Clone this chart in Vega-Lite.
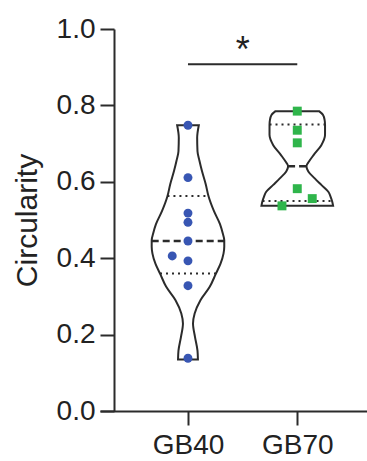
{
  "$schema": "https://vega.github.io/schema/vega-lite/v6.json",
  "width": 267,
  "height": 382,
  "autosize": {"type": "none"},
  "padding": {"left": 100, "top": 29, "right": 0, "bottom": 50},
  "background": "white",
  "config": {
    "view": {"stroke": null},
    "font": "Liberation Sans",
    "axis": {
      "domainColor": "#2b2b2b",
      "domainWidth": 2,
      "tickColor": "#2b2b2b",
      "tickWidth": 2,
      "tickSize": 14,
      "labelFont": "Liberation Sans",
      "labelFontSize": 28,
      "labelColor": "#222222",
      "titleFont": "Liberation Sans",
      "titleFontSize": 30,
      "titleFontWeight": "normal",
      "titleColor": "#222222",
      "grid": false
    }
  },
  "datasets": {
    "violin": [
      {"group": "GB40", "y": 0.748, "lo": 0.901, "hi": 1.099},
      {"group": "GB40", "y": 0.715, "lo": 0.916, "hi": 1.084},
      {"group": "GB40", "y": 0.680, "lo": 0.913, "hi": 1.087},
      {"group": "GB40", "y": 0.655, "lo": 0.895, "hi": 1.105},
      {"group": "GB40", "y": 0.628, "lo": 0.872, "hi": 1.128},
      {"group": "GB40", "y": 0.593, "lo": 0.837, "hi": 1.163},
      {"group": "GB40", "y": 0.562, "lo": 0.812, "hi": 1.188},
      {"group": "GB40", "y": 0.523, "lo": 0.762, "hi": 1.238},
      {"group": "GB40", "y": 0.489, "lo": 0.707, "hi": 1.293},
      {"group": "GB40", "y": 0.465, "lo": 0.682, "hi": 1.318},
      {"group": "GB40", "y": 0.447, "lo": 0.668, "hi": 1.332},
      {"group": "GB40", "y": 0.430, "lo": 0.668, "hi": 1.332},
      {"group": "GB40", "y": 0.412, "lo": 0.675, "hi": 1.325},
      {"group": "GB40", "y": 0.385, "lo": 0.703, "hi": 1.297},
      {"group": "GB40", "y": 0.360, "lo": 0.744, "hi": 1.256},
      {"group": "GB40", "y": 0.325, "lo": 0.801, "hi": 1.199},
      {"group": "GB40", "y": 0.290, "lo": 0.886, "hi": 1.114},
      {"group": "GB40", "y": 0.255, "lo": 0.939, "hi": 1.061},
      {"group": "GB40", "y": 0.229, "lo": 0.954, "hi": 1.046},
      {"group": "GB40", "y": 0.194, "lo": 0.936, "hi": 1.064},
      {"group": "GB40", "y": 0.158, "lo": 0.913, "hi": 1.087},
      {"group": "GB40", "y": 0.135, "lo": 0.909, "hi": 1.091},
      {"group": "GB70", "y": 0.785, "lo": 1.801, "hi": 2.199},
      {"group": "GB70", "y": 0.775, "lo": 1.764, "hi": 2.236},
      {"group": "GB70", "y": 0.762, "lo": 1.750, "hi": 2.250},
      {"group": "GB70", "y": 0.749, "lo": 1.746, "hi": 2.254},
      {"group": "GB70", "y": 0.723, "lo": 1.746, "hi": 2.254},
      {"group": "GB70", "y": 0.696, "lo": 1.780, "hi": 2.220},
      {"group": "GB70", "y": 0.670, "lo": 1.851, "hi": 2.149},
      {"group": "GB70", "y": 0.653, "lo": 1.893, "hi": 2.107},
      {"group": "GB70", "y": 0.641, "lo": 1.916, "hi": 2.084},
      {"group": "GB70", "y": 0.627, "lo": 1.899, "hi": 2.101},
      {"group": "GB70", "y": 0.609, "lo": 1.840, "hi": 2.160},
      {"group": "GB70", "y": 0.592, "lo": 1.780, "hi": 2.220},
      {"group": "GB70", "y": 0.574, "lo": 1.716, "hi": 2.284},
      {"group": "GB70", "y": 0.560, "lo": 1.694, "hi": 2.306},
      {"group": "GB70", "y": 0.548, "lo": 1.680, "hi": 2.320},
      {"group": "GB70", "y": 0.537, "lo": 1.672, "hi": 2.328}
    ],
    "quartiles": [
      {"group": "GB40", "stat": "median", "y": 0.445, "lo": 0.668, "hi": 1.332},
      {"group": "GB40", "stat": "quartile", "y": 0.563, "lo": 0.812, "hi": 1.188},
      {"group": "GB40", "stat": "quartile", "y": 0.360, "lo": 0.744, "hi": 1.256},
      {"group": "GB70", "stat": "median", "y": 0.641, "lo": 1.916, "hi": 2.084},
      {"group": "GB70", "stat": "quartile", "y": 0.750, "lo": 1.746, "hi": 2.254},
      {"group": "GB70", "stat": "quartile", "y": 0.550, "lo": 1.682, "hi": 2.318}
    ],
    "points": [
      {"group": "GB40", "pos": 1, "circularity": 0.748},
      {"group": "GB40", "pos": 1, "circularity": 0.611},
      {"group": "GB40", "pos": 1, "circularity": 0.518},
      {"group": "GB40", "pos": 1, "circularity": 0.494},
      {"group": "GB40", "pos": 1, "circularity": 0.445},
      {"group": "GB40", "pos": 0.856, "circularity": 0.406},
      {"group": "GB40", "pos": 1, "circularity": 0.393},
      {"group": "GB40", "pos": 1, "circularity": 0.328},
      {"group": "GB40", "pos": 1, "circularity": 0.138},
      {"group": "GB70", "pos": 2, "circularity": 0.785},
      {"group": "GB70", "pos": 2, "circularity": 0.735},
      {"group": "GB70", "pos": 2, "circularity": 0.702},
      {"group": "GB70", "pos": 2, "circularity": 0.582},
      {"group": "GB70", "pos": 2.137, "circularity": 0.556},
      {"group": "GB70", "pos": 1.860, "circularity": 0.537}
    ],
    "significance": [
      {"from": 1, "to": 2, "level": 0.908, "label": "*"}
    ]
  },
  "layer": [
    {
      "data": {"name": "violin"},
      "mark": {"type": "area", "orient": "horizontal", "fill": "white", "stroke": "#2b2b2b", "strokeWidth": 2, "interpolate": "monotone"},
      "encoding": {
        "detail": {"field": "group"},
        "y": {"field": "y", "type": "quantitative", "scale": {"domain": [0, 1], "nice": false, "zero": true},
          "axis": {"values": [0, 0.2, 0.4, 0.6, 0.8, 1.0], "format": ".1f", "title": "Circularity", "offset": -14, "labelPadding": 5, "titlePadding": 14}},
        "x": {"field": "lo", "type": "quantitative", "scale": {"domain": [0.195, 2.638], "nice": false, "zero": false},
          "axis": {"values": [1, 2], "labelExpr": "datum.value == 1 ? 'GB40' : 'GB70'", "title": null, "labelPadding": 6}},
        "x2": {"field": "hi"}
      }
    },
    {
      "data": {"name": "quartiles"},
      "transform": [{"filter": "datum.stat == 'median'"}],
      "mark": {"type": "rule", "stroke": "#2b2b2b", "strokeWidth": 2.5, "strokeDash": [7, 4]},
      "encoding": {
        "y": {"field": "y", "type": "quantitative"},
        "x": {"field": "lo", "type": "quantitative"},
        "x2": {"field": "hi"}
      }
    },
    {
      "data": {"name": "quartiles"},
      "transform": [{"filter": "datum.stat == 'quartile'"}],
      "mark": {"type": "rule", "stroke": "#2b2b2b", "strokeWidth": 2, "strokeDash": [2, 4]},
      "encoding": {
        "y": {"field": "y", "type": "quantitative"},
        "x": {"field": "lo", "type": "quantitative"},
        "x2": {"field": "hi"}
      }
    },
    {
      "data": {"name": "points"},
      "transform": [{"filter": "datum.group == 'GB40'"}],
      "mark": {"type": "point", "shape": "circle", "filled": true, "size": 80, "color": "#3856b3", "opacity": 1},
      "encoding": {
        "x": {"field": "pos", "type": "quantitative"},
        "y": {"field": "circularity", "type": "quantitative"}
      }
    },
    {
      "data": {"name": "points"},
      "transform": [{"filter": "datum.group == 'GB70'"}],
      "mark": {"type": "point", "shape": "square", "filled": true, "size": 80, "color": "#2fb54b", "opacity": 1},
      "encoding": {
        "x": {"field": "pos", "type": "quantitative"},
        "y": {"field": "circularity", "type": "quantitative"}
      }
    },
    {
      "data": {"name": "significance"},
      "mark": {"type": "rule", "stroke": "#2b2b2b", "strokeWidth": 2},
      "encoding": {
        "x": {"field": "from", "type": "quantitative"},
        "x2": {"field": "to"},
        "y": {"field": "level", "type": "quantitative"}
      }
    },
    {
      "data": {"name": "significance"},
      "mark": {"type": "text", "fontSize": 36, "font": "Liberation Sans", "color": "#222222", "baseline": "alphabetic", "dy": -2, "align": "center"},
      "encoding": {
        "x": {"datum": 1.5, "type": "quantitative"},
        "y": {"field": "level", "type": "quantitative"},
        "text": {"field": "label"}
      }
    }
  ]
}
